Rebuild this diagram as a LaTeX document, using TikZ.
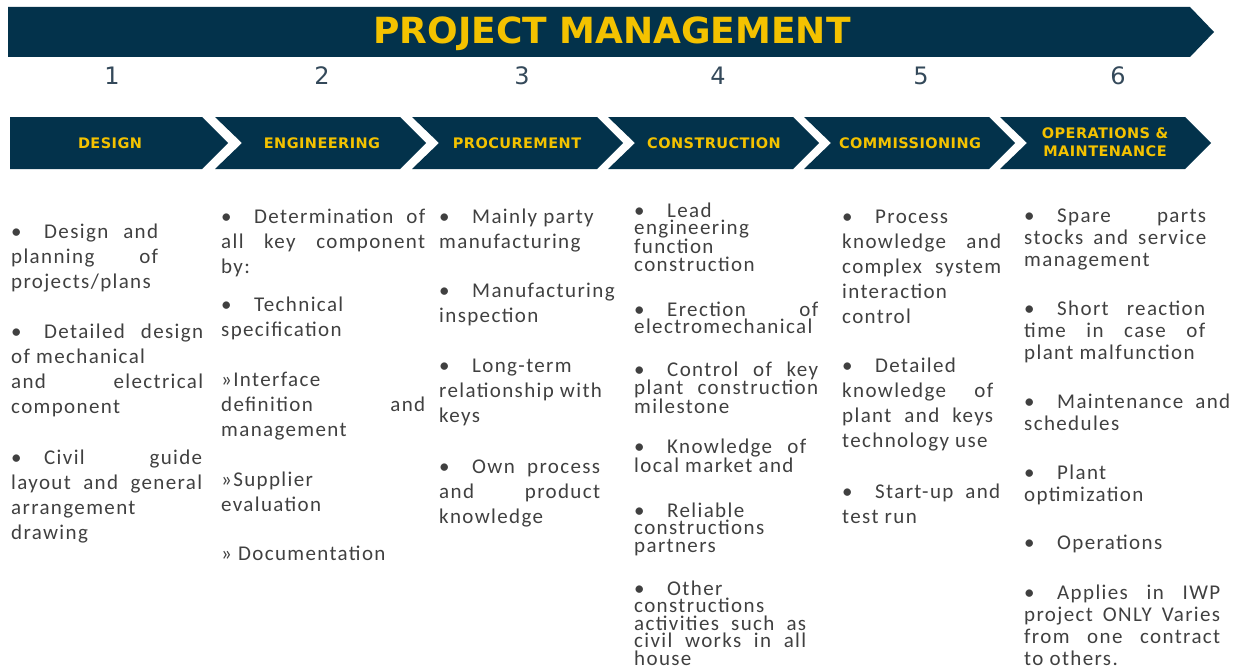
\documentclass[tikz,border=0pt]{standalone}
\usepackage{fontspec}
\setmainfont{Carlito}[LetterSpace=6.5]
\newfontfamily\headfont{DejaVu Sans}
\newfontfamily\tagfont{DejaVu Sans}[LetterSpace=3]
\usepackage{tikz}
\definecolor{pmnavy}{HTML}{03324B}
\definecolor{pmgold}{HTML}{F4C200}
\definecolor{pmtext}{HTML}{404040}
\definecolor{pmnum}{HTML}{34495A}
\newcommand{\titlefont}{\headfont\bfseries\fontsize{36}{40}\selectfont}
\newcommand{\phasefont}{\tagfont\bfseries\fontsize{14.5}{18}\selectfont}
\newcommand{\numfont}{\headfont\fontsize{24}{28}\selectfont}
\newcommand{\itemfont}{\fontsize{21}{25}\selectfont}
\newcommand{\bul}{\makebox[33pt][l]{\textbullet}}
\hyphenpenalty=10000
\exhyphenpenalty=10000
\tikzstyle{banner}=[fill=pmnavy]
\tikzstyle{phasebox}=[fill=pmnavy]
\tikzstyle{phaselabel}=[text=pmgold, font=\phasefont, inner sep=0, align=center]
\tikzstyle{stepnum}=[text=pmnum, font=\numfont, inner sep=0, anchor=base]
\tikzstyle{taskitem}=[text=pmtext, font=\itemfont, inner sep=0, anchor=base west, align=justify, text width=180pt]
\tikzstyle{tightitem}=[taskitem, font={\fontsize{21}{17.5}\selectfont}]
\tikzstyle{midtightitem}=[taskitem, font={\fontsize{21}{22}\selectfont}]
\begin{document}
\begin{tikzpicture}[x=1pt, y=-1pt]
        \useasboundingbox (0,0) rectangle (1233,669);
        % top banner
        \fill[banner] (8,7) -- (1190,7) -- (1214,32) -- (1190,57) -- (8,57) -- cycle;
        \node[text=pmgold, font=\titlefont, inner sep=0, anchor=base] (title) at (612,44) {PROJECT MANAGEMENT};
        % numbers
        \node[stepnum] (n1) at (112,84) {1};
        \node[stepnum] (n2) at (322,84) {2};
        \node[stepnum] (n3) at (522,84) {3};
        \node[stepnum] (n4) at (718,84) {4};
        \node[stepnum] (n5) at (921,84) {5};
        \node[stepnum] (n6) at (1118,84) {6};
        % phases
        \fill[phasebox] (10,117) -- (202,117) -- (228,143) -- (202,169) -- (10,169) -- cycle;
        \fill[phasebox] (215,117) -- (400,117) -- (426,143) -- (400,169) -- (215,169) -- (242,143) -- cycle;
        \fill[phasebox] (412,117) -- (597,117) -- (623,143) -- (597,169) -- (412,169) -- (439,143) -- cycle;
        \fill[phasebox] (608,117) -- (793,117) -- (819,143) -- (793,169) -- (608,169) -- (635,143) -- cycle;
        \fill[phasebox] (804,117) -- (989,117) -- (1015,143) -- (989,169) -- (804,169) -- (831,143) -- cycle;
        \fill[phasebox] (1000,117) -- (1185,117) -- (1211,143) -- (1185,169) -- (1000,169) -- (1027,143) -- cycle;
        \node[phaselabel, anchor=base] (design) at (110,148) {DESIGN};
        \node[phaselabel, anchor=base] (engineering) at (322,148) {ENGINEERING};
        \node[phaselabel, anchor=base] (procurement) at (517,148) {PROCUREMENT};
        \node[phaselabel, anchor=base] (construction) at (714,148) {CONSTRUCTION};
        \node[phaselabel, anchor=base] (commissioning) at (910,148) {COMMISSIONING};
        \node[phaselabel] (operations) at (1105,142) {OPERATIONS \&\\MAINTENANCE};
        % design
        \node[taskitem, text width=147pt] (des1) at (11,238) {\bul Design and\linebreak planning of\linebreak projects/plans};
        \node[taskitem, text width=192pt] (des2) at (11,338) {\bul Detailed design\linebreak of mechanical\newline and electrical\linebreak component};
        \node[taskitem, text width=191pt] (des3) at (11,464) {\bul Civil guide\linebreak layout and general\linebreak arrangement\newline drawing};
        % engineering
        \node[taskitem, text width=204pt] (eng1) at (221,223) {\bul Determination of\linebreak all key component\linebreak by:};
        \node[taskitem, text width=204pt] (eng2) at (221,311) {\bul Technical\newline specification};
        \node[taskitem, text width=204pt] (eng3) at (221,386) {»Interface\newline definition and\linebreak management};
        \node[taskitem, text width=204pt] (eng4) at (221,486) {»Supplier\newline evaluation};
        \node[taskitem, text width=204pt] (eng5) at (221,560) {» Documentation};
        % procurement
        \node[taskitem, text width=175pt] (pro1) at (439,223) {\bul Mainly party\newline manufacturing};
        \node[taskitem, text width=175pt] (pro2) at (439,297) {\bul Manufacturing\newline inspection};
        \node[taskitem, text width=175pt] (pro3) at (439,372) {\bul Long-term\newline relationship with\newline keys};
        \node[taskitem, text width=161pt] (pro4) at (439,473) {\bul Own process\linebreak and product\linebreak knowledge};
        % construction
        \node[tightitem, text width=184pt] (con1) at (634,217) {\bul Lead\newline engineering\newline function\newline construction};
        \node[tightitem, text width=184pt] (con2) at (634,316) {\bul Erection of\linebreak electromechanical};
        \node[tightitem, text width=184pt] (con3) at (634,376) {\bul Control of key\linebreak plant construction\linebreak milestone};
        \node[tightitem, text width=172pt] (con4) at (634,453) {\bul Knowledge of\linebreak local market and};
        \node[tightitem, text width=184pt] (con5) at (634,517) {\bul Reliable\newline constructions\newline partners};
        \node[tightitem, text width=172pt] (con6) at (634,595) {\bul Other\newline constructions\newline activities such as\linebreak civil works in all\linebreak house};
        % commissioning
        \node[taskitem, text width=159pt] (com1) at (842,223) {\bul Process\newline knowledge and\linebreak complex system\linebreak interaction\newline control};
        \node[taskitem, text width=151pt] (com2) at (842,372) {\bul Detailed\newline knowledge of\linebreak plant and keys\linebreak technology use};
        \node[taskitem, text width=158pt] (com3) at (842,498) {\bul Start-up and\linebreak test run};
        % operations and maintenance
        \node[midtightitem, text width=182pt] (ops1) at (1024,222) {\bul Spare parts\linebreak stocks and service\linebreak management};
        \node[midtightitem, text width=181pt] (ops2) at (1024,315) {\bul Short reaction\linebreak time in case of\linebreak plant malfunction};
        \node[midtightitem, text width=206pt] (ops3) at (1024,408) {\bul Maintenance and\linebreak schedules};
        \node[midtightitem, text width=200pt] (ops4) at (1024,479) {\bul Plant\newline optimization};
        \node[midtightitem, text width=200pt] (ops5) at (1024,549) {\bul Operations};
        \node[midtightitem, text width=196pt] (ops6) at (1024,599) {\bul Applies in IWP\linebreak project ONLY Varies\linebreak from one contract\linebreak to others.};
\end{tikzpicture}
\end{document}
